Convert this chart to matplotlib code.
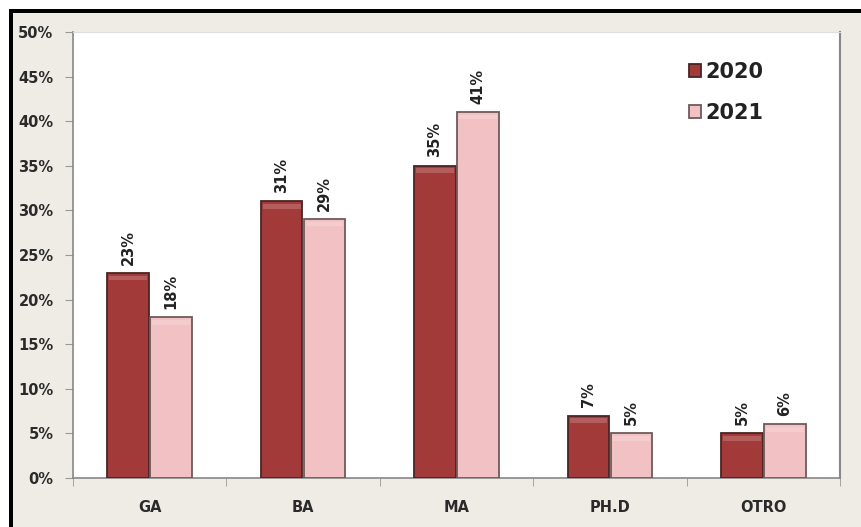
import matplotlib.pyplot as plt
import matplotlib.patches as patches
import numpy as np

categories = ['GA', 'BA', 'MA', 'PH.D', 'OTRO']
years = ['2020', '2021']
values_2020 = [23, 31, 35, 7, 5]
values_2021 = [18, 29, 41, 5, 6]
y_ticks = [0, 5, 10, 15, 20, 25, 30, 35, 40, 45, 50]

W, H = 862, 527
fig = plt.figure(figsize=(W / 100, H / 100), dpi=100, facecolor='white')

# black frame on the left and top, beige panel inside
fig.patches.append(patches.Rectangle((9 / W, 0), 1, 1 - 9 / H, transform=fig.transFigure,
                                     facecolor='black', edgecolor='none', zorder=-10))
fig.patches.append(patches.Rectangle((13 / W, 0), 1, 1 - 13 / H, transform=fig.transFigure,
                                     facecolor='#EEECE4', edgecolor='none', zorder=-9))

ax = fig.add_axes([73 / W, 49 / H, (840 - 73) / W, (478 - 32) / H])
ax.set_facecolor('white')

x = np.arange(len(categories))
width = 0.28
colors = ['#A33A3A', '#F2C1C3']
edges = ['#4A2424', '#6E5A5A']

for i, (vals, col, ec) in enumerate(zip([values_2020, values_2021], colors, edges)):
    pos = x + (i - 0.5) * width
    bars = ax.bar(pos, vals, width * 0.97, color=col, edgecolor=ec, linewidth=1.3,
                  label=years[i], zorder=3)
    # lighter strip along the top of each bar
    ax.bar(pos, [0.5] * len(vals), width * 0.88, bottom=np.array(vals) - 0.8,
           color='white', alpha=0.18, edgecolor='none', zorder=4)
    for b, v in zip(bars, vals):
        ax.annotate(f'{v}%', (b.get_x() + b.get_width() / 2, v), xytext=(0, 6),
                    textcoords='offset points', rotation=90, ha='center', va='bottom',
                    fontsize=10.5, fontweight='bold', color='#222222')

ax.set_xlim(-0.5, len(categories) - 0.5)
ax.set_ylim(0, 50)
ax.set_yticks(y_ticks)
ax.set_yticklabels([f'{t}%' for t in y_ticks])
ax.set_xticks(x)
ax.set_xticklabels(categories)
ax.set_xticks(np.arange(len(categories) + 1) - 0.5, minor=True)

ax.tick_params(axis='y', length=6, color='#999999', labelsize=10.5, pad=8,
               labelcolor='#2A2A2A')
ax.tick_params(axis='x', which='major', length=0, labelsize=10.5, pad=16,
               labelcolor='#2A2A2A')
ax.tick_params(axis='x', which='minor', length=6, color='#999999')
for lbl in ax.get_xticklabels() + ax.get_yticklabels():
    lbl.set_fontweight('bold')

for side in ['left', 'bottom']:
    ax.spines[side].set_color('#888888')
    ax.spines[side].set_linewidth(1.2)
ax.spines['right'].set_color('#888888')
ax.spines['right'].set_linewidth(1.5)
ax.spines['top'].set_color('#DDDDDD')

leg = ax.legend(loc='upper right', bbox_to_anchor=(0.925, 0.975), frameon=False,
                prop={'weight': 'bold', 'size': 15}, handlelength=0.55, handleheight=0.55,
                handletextpad=0.25, labelspacing=1.0)
for t in leg.get_texts():
    t.set_color('#222222')

fig.savefig('out.png', dpi=100)
